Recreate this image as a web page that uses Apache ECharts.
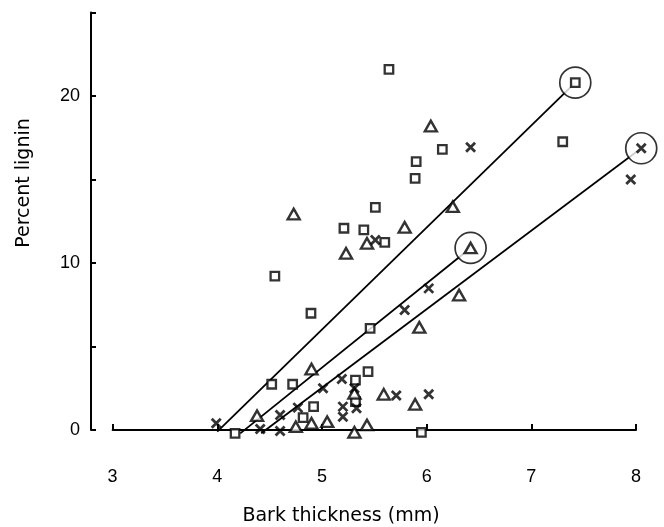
<!DOCTYPE html>
<html><head><meta charset="utf-8">
<script src="https://cdn.jsdelivr.net/npm/echarts@6/dist/echarts.min.js"></script>
<style>html,body{margin:0;padding:0;background:#fff}#c{width:664px;height:527px}</style>
</head><body><div id="c"></div>
<script>
// ---- data (bark thickness mm, percent lignin) ----
const squares = [
  [5.64,21.6],[7.30,17.26],[6.15,16.8],[5.90,16.07],[5.89,15.07],[5.51,13.33],
  [5.21,12.08],[5.40,11.98],[5.60,11.24],[4.55,9.22],[4.895,6.99],[5.46,6.09],
  [5.44,3.49],[5.32,2.99],[4.52,2.74],[4.72,2.74],[4.92,1.40],[4.82,0.74],
  [5.32,1.70],[4.17,-0.2],[5.95,-0.14]
];
const triangles = [
  [6.04,18.2],[4.73,12.93],[6.25,13.37],[5.79,12.14],[5.43,11.18],[5.23,10.58],
  [6.31,8.08],[5.93,6.15],[4.90,3.65],[4.38,0.86],[4.75,0.2],[4.90,0.40],
  [5.05,0.50],[5.31,-0.14],[5.43,0.30],[5.59,2.14],[5.89,1.54],[5.31,2.2]
];
const crosses = [
  [6.42,16.93],[7.95,15.0],[5.51,11.38],[6.02,8.48],[5.79,7.19],[5.19,3.05],
  [5.01,2.50],[5.71,2.06],[6.02,2.14],[4.77,1.34],[4.60,0.9],[4.60,-0.06],
  [4.41,0.06],[3.99,0.40],[5.20,1.40],[5.20,0.80],[5.33,1.30],[5.31,2.5]
];
const circledSquare = [[7.42,20.8]];
const circledTriangle = [[6.42,10.9]];
const circledCross = [[8.05,16.87]];
const squareLine = [[4.0,-0.1],[7.42,20.8]];
const triangleLine = [[4.22,-0.2],[6.42,10.9]];
const crossLine = [[4.42,-0.2],[8.05,16.87]];
const xTickValues = [3,4,5,6,7,8];
const yTickLabels = ['0','10','20'];
const xName = 'Bark thickness (mm)';
const yName = 'Percent lignin';

const INK = '#000';
const crossPath = 'path://M0,0L10,10M10,0L0,10';
const sqStyle = {symbol:'rect', symbolSize:8.5, itemStyle:{color:'#fff', borderColor:INK, borderWidth:2.3}};
const triStyle = {symbol:'triangle', symbolSize:[12,10.5], itemStyle:{color:'#fff', borderColor:INK, borderWidth:2.4}};
const crStyle = {symbol:crossPath, symbolSize:9, itemStyle:{color:'rgba(0,0,0,0)', borderColor:INK, borderWidth:2.8}};

function lineSeries(d){
  return {type:'line', data:d, symbol:'none', silent:true, z:2, clip:false,
    lineStyle:{color:INK, width:1.8}};
}
function circleSeries(d){
  return {type:'scatter', data:d, symbol:'circle', symbolSize:31, z:3, clip:false, silent:true,
    itemStyle:{color:'#fff', borderColor:INK, borderWidth:1.7}};
}
function markSeries(d, st){
  return Object.assign({type:'scatter', data:d, z:4, clip:false, silent:true}, st);
}

const chart = echarts.init(document.getElementById('c'), null, {renderer:'canvas'});
const labelFont = {color:INK, fontSize:18, fontFamily:'"Liberation Sans", Arial, sans-serif'};
chart.setOption({
  animation:false,
  backgroundColor:'#fff',
  grid:{left:112.6, right:28, top:12.5, bottom:97, containLabel:false},
  xAxis:{type:'value', min:3, max:8, interval:1, offset:15,
    axisLine:{show:true, lineStyle:{color:INK, width:2}},
    axisTick:{show:true, inside:true, length:6, lineStyle:{color:INK, width:2}},
    axisLabel:Object.assign({margin:23, formatter:v=>xTickValues.includes(v)?String(v):''}, labelFont),
    splitLine:{show:false}},
  yAxis:{type:'value', min:0, max:25, interval:5, offset:21.6,
    axisLine:{show:true, lineStyle:{color:INK, width:2}},
    axisTick:{show:true, inside:true, length:5, lineStyle:{color:INK, width:2}},
    axisLabel:Object.assign({margin:11, formatter:v=>yTickLabels.includes(String(v))?String(v):''}, labelFont),
    splitLine:{show:false}},
  graphic:[
    {type:'text', x:24, y:183, rotation:Math.PI/2,
      style:{text:yName, fill:INK, font:'19px "DejaVu Sans", sans-serif', textAlign:'center', textVerticalAlign:'middle'}},
    {type:'text', x:341, y:516,
      style:{text:xName, fill:INK, font:'19px "DejaVu Sans", sans-serif', textAlign:'center', textVerticalAlign:'middle'}}
  ],
  series:[
    lineSeries(squareLine), lineSeries(triangleLine), lineSeries(crossLine),
    circleSeries(circledSquare), circleSeries(circledTriangle), circleSeries(circledCross),
    markSeries(squares, sqStyle), markSeries(triangles, triStyle), markSeries(crosses, crStyle),
    markSeries(circledSquare, sqStyle), markSeries(circledTriangle, triStyle), markSeries(circledCross, crStyle)
  ]
});
</script></body></html>
